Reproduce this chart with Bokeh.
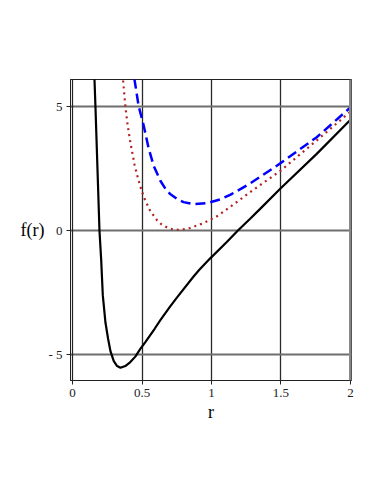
from bokeh.plotting import figure
from bokeh.models import Range1d, FixedTicker, Span
from bokeh.embed import file_html
from bokeh.resources import INLINE

# black solid curve
r1 = [0.158, 0.165, 0.194, 0.206, 0.218, 0.237, 0.256, 0.273, 0.297, 0.321, 0.345, 0.38, 0.416,
      0.452, 0.488, 0.524, 0.591, 0.632, 0.703, 0.751, 0.871, 0.914, 0.991, 1.11, 1.19, 1.278,
      1.35, 1.498, 1.757, 2.0]
f1 = [6.1, 5.0, 0.0, -1.14, -2.6, -3.7, -4.35, -4.85, -5.25, -5.45, -5.52, -5.45, -5.29,
      -5.07, -4.76, -4.49, -3.95, -3.6, -3.05, -2.70, -1.85, -1.57, -1.12, -0.46, 0.0, 0.47,
      0.87, 1.70, 3.08, 4.45]

# blue dashed curve
r2 = [0.445, 0.476, 0.512, 0.548, 0.584, 0.632, 0.668, 0.70, 0.751, 0.799, 0.871, 0.967, 1.062,
      1.134, 1.278, 1.498, 1.757, 2.0]
f2 = [6.1, 5.0, 4.22, 3.3, 2.6, 2.0, 1.68, 1.48, 1.27, 1.14, 1.06, 1.10, 1.25,
      1.43, 1.89, 2.71, 3.75, 4.95]

# brown dotted curve
r3 = [0.364, 0.380, 0.397, 0.416, 0.447, 0.469, 0.493, 0.522, 0.56, 0.61, 0.641, 0.682, 0.72,
      0.763, 0.80, 0.847, 0.943, 1.039, 1.122, 1.278, 1.498, 1.757, 2.0]
f3 = [6.03, 5.0, 4.22, 3.55, 2.63, 2.14, 1.68, 1.22, 0.78, 0.40, 0.24, 0.12, 0.05,
      0.03, 0.05, 0.10, 0.30, 0.57, 0.90, 1.54, 2.41, 3.62, 4.78]

x_ticks = [0, 0.5, 1, 1.5, 2]
x_tick_labels = ["0", "0.5", "1", "1.5", "2"]
y_ticks = [-5, 0, 5]
y_tick_labels = ["- 5", "0", "5"]

FONT = "Liberation Serif"

p = figure(width=371, height=480, output_backend="svg", toolbar_location=None,
           x_range=Range1d(-0.0144, 2.0072), y_range=Range1d(-6.03, 6.07),
           frame_width=281, frame_height=301,
           min_border_left=70, min_border_right=20, min_border_top=79, min_border_bottom=100)
p.background_fill_color = "white"
p.border_fill_color = "white"
p.outline_line_color = "#222222"
p.outline_line_width = 1

p.xaxis.ticker = FixedTicker(ticks=x_ticks)
p.yaxis.ticker = FixedTicker(ticks=y_ticks)
p.xaxis.major_label_overrides = {t: l for t, l in zip(x_ticks, x_tick_labels)}
p.yaxis.major_label_overrides = {t: l for t, l in zip(y_ticks, y_tick_labels)}
for ax in (p.xaxis[0], p.yaxis[0]):
    ax.minor_tick_line_color = None
    ax.major_tick_in = 0
    ax.major_tick_out = 4
    ax.major_tick_line_color = "#222222"
    ax.axis_line_color = "#222222"
    ax.major_label_text_font = FONT
    ax.major_label_text_font_size = "13px"
    ax.major_label_text_color = "#222222"
    ax.axis_label_text_font = FONT
    ax.axis_label_text_font_size = "18px"
    ax.axis_label_text_font_style = "normal"
    ax.axis_label_text_color = "black"
p.xaxis.major_label_standoff = 4
p.yaxis.major_label_standoff = 4
p.xaxis.axis_label = "r"
p.xaxis.axis_label_standoff = 2
p.yaxis.axis_label = "f(r)"
p.yaxis.axis_label_orientation = "horizontal"
p.yaxis.axis_label_standoff = 1

p.xgrid.ticker = FixedTicker(ticks=[0.5, 1, 1.5])
p.ygrid.ticker = FixedTicker(ticks=y_ticks)
p.xgrid.grid_line_color = "#2a2a2a"
p.xgrid.grid_line_width = 1.3
p.ygrid.grid_line_color = "#6e6e6e"
p.ygrid.grid_line_width = 1.8

p.add_layout(Span(location=0, dimension="height", line_color="#222222", line_width=1.2))
p.add_layout(Span(location=2, dimension="height", line_color="#888888", line_width=3))

p.line(r1, f1, line_color="black", line_width=2.2)
p.line(r2, f2, line_color="blue", line_width=2.5, line_dash="10 5")
p.line(r3, f3, line_color="#b22222", line_width=2.2, line_dash="2 4")

open("out.html", "w").write(file_html(p, INLINE))
